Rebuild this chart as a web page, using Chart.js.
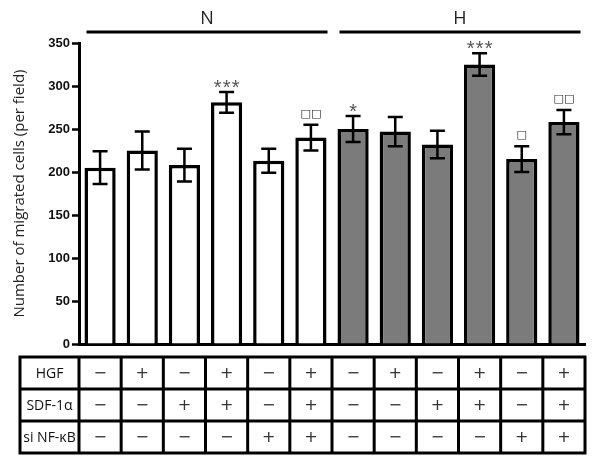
<!DOCTYPE html>
<html>
<head>
<meta charset="utf-8">
<script src="https://cdn.jsdelivr.net/npm/chart.js@4/dist/chart.umd.min.js"></script>
<style>
  html, body { margin: 0; padding: 0; background: #fff; }
  #wrap { width: 600px; height: 461px; }
</style>
</head>
<body>
<div id="wrap"><canvas id="chart" width="600" height="461"></canvas></div>
<script>
// data
const groups = ['N', 'N', 'N', 'N', 'N', 'N', 'H', 'H', 'H', 'H', 'H', 'H'];
const migrated = [205, 225, 208, 281, 213, 240, 250, 247, 232, 325, 215, 258];
const sem = [19, 22, 19, 12, 14, 15, 15, 17, 16, 13, 15, 14];
const marks = ['', '', '', '***', '', '□□', '*', '', '', '***', '□', '□□'];
const rowNames = ['HGF', 'SDF-1α', 'si NF-κB'];
const hgf = ['−', '+', '−', '+', '−', '+', '−', '+', '−', '+', '−', '+'];
const sdf = ['−', '−', '+', '+', '−', '+', '−', '−', '+', '+', '−', '+'];
const siNF = ['−', '−', '−', '−', '+', '+', '−', '−', '−', '−', '+', '+'];
const yTicks = [0, 50, 100, 150, 200, 250, 300, 350];

const labels = migrated.map((v, i) => groups[i] + (i % 6 + 1));
const fills = groups.map(g => g === 'N' ? '#ffffff' : '#7b7b7b');

const extras = {
    id: 'extras',
    afterDatasetsDraw(chart) {
        const ctx = chart.ctx;
        const y = chart.scales.y;
        const x = chart.scales.x;
        const bars = chart.getDatasetMeta(0).data;
        ctx.save();

        // error bars
        ctx.strokeStyle = '#000';
        ctx.lineWidth = 2.5;
        bars.forEach((bar, i) => {
            const top = y.getPixelForValue(migrated[i] + sem[i]);
            const bot = y.getPixelForValue(migrated[i] - sem[i]);
            ctx.beginPath();
            ctx.moveTo(bar.x, top);
            ctx.lineTo(bar.x, bot);
            ctx.moveTo(bar.x - 7.5, top);
            ctx.lineTo(bar.x + 7.5, top);
            ctx.moveTo(bar.x - 7.5, bot);
            ctx.lineTo(bar.x + 7.5, bot);
            ctx.stroke();
        });

        // significance marks
        ctx.textAlign = 'center';
        bars.forEach((bar, i) => {
            const m = marks[i];
            if (!m) return;
            const top = y.getPixelForValue(migrated[i] + sem[i]);
            if (m[0] === '*') {
                ctx.fillStyle = '#555';
                ctx.font = '20px "Liberation Sans"';
                ctx.textBaseline = 'alphabetic';
                const n = m.length;
                for (let k = 0; k < n; k++) {
                    ctx.fillText('*', bar.x + (k - (n - 1) / 2) * 9, top + 2);
                }
            } else {
                ctx.fillStyle = '#222';
                ctx.font = 'bold 11px "DejaVu Sans"';
                ctx.textBaseline = 'middle';
                ctx.fillText(m, bar.x, top - 11);
            }
        });
        ctx.textBaseline = 'middle';

        // group lines and labels
        ['N', 'H'].forEach(g => {
            const idx = groups.map((v, i) => v === g ? i : -1).filter(i => i >= 0);
            const first = bars[idx[0]];
            const last = bars[idx[idx.length - 1]];
            const x0 = first.x - first.width / 2 + 2;
            const x1 = last.x + last.width / 2 + 1;
            ctx.strokeStyle = '#000';
            ctx.lineWidth = 3;
            ctx.beginPath();
            ctx.moveTo(x0, 32);
            ctx.lineTo(x1, 32);
            ctx.stroke();
            ctx.fillStyle = '#222';
            ctx.font = '18px "Open Sans"';
            ctx.fillText(g, (x0 + x1) / 2, 19);
        });

        // condition table
        const tTop = 357, rowH = 32, tLeft = 20;
        const rows = [hgf, sdf, siNF];
        const colEdges = [tLeft];
        for (let i = 0; i <= labels.length; i++) {
            colEdges.push(x.getPixelForValue(i - 0.5));
        }
        const tRight = colEdges[colEdges.length - 1];
        ctx.strokeStyle = '#000';
        ctx.lineWidth = 3;
        ctx.beginPath();
        for (let r = 0; r <= rows.length; r++) {
            ctx.moveTo(tLeft - 1.5, tTop + r * rowH);
            ctx.lineTo(tRight + 1.5, tTop + r * rowH);
        }
        colEdges.forEach(cx => {
            ctx.moveTo(cx, tTop);
            ctx.lineTo(cx, tTop + rows.length * rowH);
        });
        ctx.stroke();

        rows.forEach((row, r) => {
            const cy = tTop + r * rowH + rowH / 2 + 1;
            ctx.fillStyle = '#111';
            ctx.font = '14px "Open Sans"';
            ctx.fillText(rowNames[r], (colEdges[0] + colEdges[1]) / 2, cy);
            ctx.font = '16px "DejaVu Sans"';
            ctx.fillStyle = '#333';
            row.forEach((s, i) => {
                ctx.fillText(s, x.getPixelForValue(i), cy);
            });
        });

        ctx.restore();
    }
};

new Chart(document.getElementById('chart'), {
    type: 'bar',
    data: {
        labels: labels,
        datasets: [{
            data: migrated,
            backgroundColor: fills,
            borderColor: '#000',
            borderWidth: 3.5,
            barPercentage: 0.74,
            categoryPercentage: 1
        }]
    },
    options: {
        responsive: false,
        animation: false,
        layout: { padding: { top: 43, right: 15, bottom: 117, left: 0 } },
        plugins: {
            legend: { display: false },
            tooltip: { enabled: false }
        },
        scales: {
            x: {
                ticks: { display: false },
                grid: { display: false },
                border: { display: true, color: '#000', width: 3 },
                afterFit(scale) { scale.height = 0; }
            },
            y: {
                min: 0,
                max: 350,
                afterBuildTicks(scale) { scale.ticks = yTicks.map(v => ({ value: v })); },
                ticks: {
                    color: '#111',
                    padding: 2,
                    font: { family: '"Liberation Sans Narrow", "Liberation Sans"', size: 13, weight: 'bold' }
                },
                grid: {
                    display: true,
                    drawOnChartArea: false,
                    drawTicks: true,
                    tickLength: 7,
                    tickWidth: 2.5,
                    tickColor: '#000'
                },
                border: { display: true, color: '#000', width: 3 },
                title: {
                    display: true,
                    text: 'Number of migrated cells (per field)',
                    color: '#222',
                    font: { family: '"Open Sans"', size: 15 },
                    padding: { top: 11, bottom: 0 }
                },
                afterFit(scale) { scale.width = 79; }
            }
        }
    },
    plugins: [extras]
});
</script>
</body>
</html>
